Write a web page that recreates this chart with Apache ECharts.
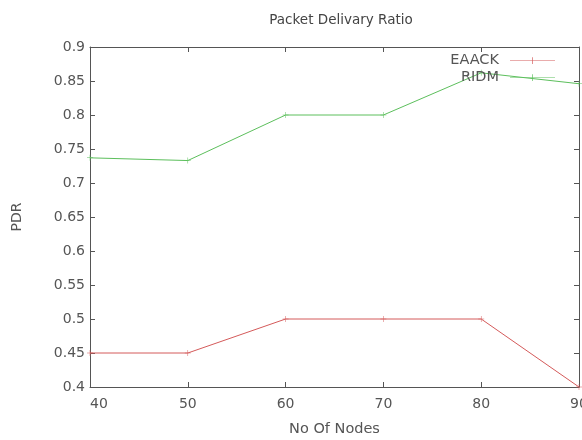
<!DOCTYPE html>
<html>
<head>
<meta charset="utf-8">
<script src="https://cdn.jsdelivr.net/npm/echarts@6/dist/echarts.min.js"></script>
<style>
  html, body { margin: 0; padding: 0; background: #fff; }
  #chart { width: 582px; height: 440px; }
</style>
</head>
<body>
<div id="chart"></div>
<script>
// Number of nodes on the x axis
const nodes = [40, 50, 60, 70, 80, 90];
// Packet delivery ratio per protocol
const eaack = [0.45, 0.45, 0.50, 0.50, 0.50, 0.40];
const ridm = [0.737, 0.733, 0.80, 0.80, 0.862, 0.846];

const crossSymbol = 'path://M4.6,0h0.8v10h-0.8zM0,4.6h10v0.8h-10z';
const legendIcon = 'path://M0,4.7h40v0.6h-40zM19.7,2h0.6v6h-0.6z';
const labelColor = '#555';
const font = 'DejaVu Sans';

const pairs = (ys) => nodes.map((x, i) => [x, ys[i]]);

const chart = echarts.init(document.getElementById('chart'));
chart.setOption({
  animation: false,
  backgroundColor: '#fff',
  title: {
    text: 'Packet Delivary Ratio',
    left: 336, top: 8, textAlign: 'center',
    textStyle: { fontFamily: font, fontSize: 13.5, fontWeight: 'normal', color: '#444' }
  },
  legend: {
    orient: 'vertical',
    right: 27, top: 52,
    align: 'right',
    itemWidth: 45, itemHeight: 10, itemGap: 0,
    padding: 0,
    textStyle: { fontFamily: font, fontSize: 14.5, lineHeight: 17, color: labelColor, padding: [0, 6, 0, 0] },
    data: [
      { name: 'EAACK', icon: legendIcon },
      { name: 'RIDM', icon: legendIcon }
    ]
  },
  grid: { left: 90, right: 3, top: 47, bottom: 53, containLabel: false, outerBoundsMode: 'none' },
  xAxis: [
    {
      type: 'value', min: 40, max: 90, interval: 10,
      name: 'No Of Nodes', nameLocation: 'middle', nameGap: 35,
      nameTextStyle: { fontFamily: font, fontSize: 14.5, color: labelColor },
      axisLine: { lineStyle: { color: '#555', width: 1 } },
      axisTick: { inside: true, length: 5, lineStyle: { color: '#555' } },
      axisLabel: {
        fontFamily: font, fontSize: 14, color: labelColor, margin: 10,
        alignMinLabel: 'left', alignMaxLabel: 'center', showMaxLabel: true
      },
      splitLine: { show: false }
    },
    {
      type: 'value', position: 'top', min: 40, max: 90, interval: 10,
      axisLine: { lineStyle: { color: '#555', width: 1 } },
      axisTick: { inside: true, length: 5, lineStyle: { color: '#555' } },
      axisLabel: { show: false },
      splitLine: { show: false }
    }
  ],
  yAxis: [
    {
      type: 'value', min: 0.4, max: 0.9, interval: 0.05,
      name: 'PDR', nameLocation: 'middle', nameGap: 66,
      nameTextStyle: { fontFamily: font, fontSize: 14, color: labelColor },
      axisLine: { show: true, lineStyle: { color: '#555', width: 1 } },
      axisTick: { show: true, inside: true, length: 5, lineStyle: { color: '#555' } },
      axisLabel: {
        fontFamily: font, fontSize: 14, color: labelColor, margin: 5,
        formatter: (v) => String(parseFloat(v.toFixed(2)))
      },
      splitLine: { show: false }
    },
    {
      type: 'value', position: 'right', min: 0.4, max: 0.9, interval: 0.05,
      axisLine: { show: true, lineStyle: { color: '#555', width: 1 } },
      axisTick: { show: true, inside: true, length: 5, lineStyle: { color: '#555' } },
      axisLabel: { show: false },
      splitLine: { show: false }
    }
  ],
  series: [
    {
      name: 'EAACK', type: 'line', data: pairs(eaack),
      symbol: crossSymbol, symbolSize: 6, showAllSymbol: true,
      lineStyle: { color: '#d45a5a', width: 1 },
      itemStyle: { color: '#d45a5a' }
    },
    {
      name: 'RIDM', type: 'line', data: pairs(ridm),
      symbol: crossSymbol, symbolSize: 6, showAllSymbol: true,
      lineStyle: { color: '#5cbf5c', width: 1 },
      itemStyle: { color: '#5cbf5c' }
    }
  ]
});
</script>
</body>
</html>
